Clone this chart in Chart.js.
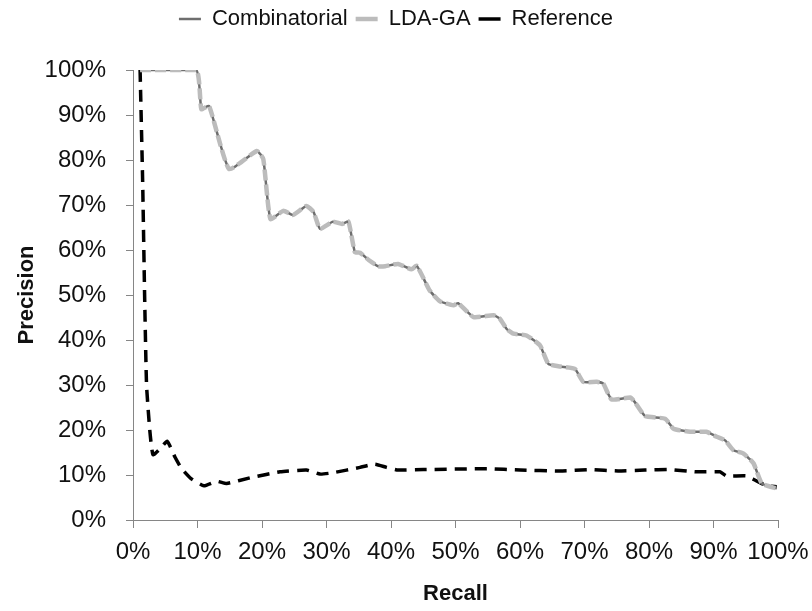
<!DOCTYPE html>
<html>
<head>
<meta charset="utf-8">
<script src="https://cdn.jsdelivr.net/npm/chart.js@4"></script>
<style>
  html, body { margin: 0; padding: 0; background: #fff; }
  #wrap { width: 812px; height: 611px; }
</style>
</head>
<body>
<div id="wrap"><canvas id="prChart" width="812" height="611"></canvas></div>
<script>
// recall (%) / precision (%)
const combRecall = [1.1, 9.8, 10.6, 11.8, 14.9, 19.2, 20.2, 21.3, 23.3, 24.8, 26.9, 28, 29, 31, 32.4, 33.4, 34.4, 35.2, 36.7, 38, 39.1, 41.1, 43.2, 44, 46, 47.6, 49.7, 50.4, 52.8, 55.9, 56.9, 57.9, 59, 61, 63.1, 64.4, 66.2, 68.5, 69.8, 71.9, 72.9, 74.2, 77.1, 77.8, 79.4, 82.5, 83.8, 86.4, 88.9, 90.5, 91.8, 93.1, 94.6, 96.2, 97.5, 99.8];
const combPrecision = [100, 100, 91.3, 92, 78, 82, 80.2, 66.9, 68.7, 67.8, 69.8, 68.4, 64.7, 66.3, 65.8, 66.3, 59.5, 59.4, 57.6, 56.4, 56.4, 56.9, 55.7, 56.5, 51, 48.6, 47.7, 48.2, 45.1, 45.5, 44.7, 42.5, 41.4, 41, 38.8, 34.7, 34.1, 33.6, 30.7, 30.7, 30.3, 26.8, 27.2, 26.2, 23.1, 22.5, 20.3, 19.6, 19.6, 18.5, 17.7, 15.5, 14.8, 12.6, 8.1, 7];

// LDA-GA sits exactly on top of Combinatorial in the picture
const ldaRecall = [1.1, 9.8, 10.6, 11.8, 14.9, 19.2, 20.2, 21.3, 23.3, 24.8, 26.9, 28, 29, 31, 32.4, 33.4, 34.4, 35.2, 36.7, 38, 39.1, 41.1, 43.2, 44, 46, 47.6, 49.7, 50.4, 52.8, 55.9, 56.9, 57.9, 59, 61, 63.1, 64.4, 66.2, 68.5, 69.8, 71.9, 72.9, 74.2, 77.1, 77.8, 79.4, 82.5, 83.8, 86.4, 88.9, 90.5, 91.8, 93.1, 94.6, 96.2, 97.5, 99.8];
const ldaPrecision = [100, 100, 91.3, 92, 78, 82, 80.2, 66.9, 68.7, 67.8, 69.8, 68.4, 64.7, 66.3, 65.8, 66.3, 59.5, 59.4, 57.6, 56.4, 56.4, 56.9, 55.7, 56.5, 51, 48.6, 47.7, 48.2, 45.1, 45.5, 44.7, 42.5, 41.4, 41, 38.8, 34.7, 34.1, 33.6, 30.7, 30.7, 30.3, 26.8, 27.2, 26.2, 23.1, 22.5, 20.3, 19.6, 19.6, 18.5, 17.7, 15.5, 14.8, 12.6, 8.1, 7];

const refRecall = [1.1, 1.5, 1.8, 2.1, 2.6, 3.1, 4.2, 5.3, 6.5, 7.5, 9, 11, 13, 14.5, 18.5, 22.8, 26.9, 29, 31, 35.2, 37.5, 39.3, 41.1, 45, 55, 60, 66.2, 70.9, 75.2, 79.4, 83.3, 87.4, 91, 92, 95.1, 96.4, 98.2, 99.8];
const refPrecision = [100, 75, 50, 30, 20, 14.5, 15.8, 17.5, 14, 11.5, 9.2, 7.6, 8.6, 8.1, 9.5, 10.7, 11.1, 10.2, 10.5, 11.7, 12.4, 11.7, 11.1, 11.2, 11.4, 11.1, 10.9, 11.2, 10.9, 11.1, 11.2, 10.7, 10.7, 9.8, 9.8, 8.9, 7.6, 7.4];

const tickLabels = ['0%', '10%', '20%', '30%', '40%', '50%', '60%', '70%', '80%', '90%', '100%'];

function toPoints(xs, ys) {
    return xs.map((x, i) => ({ x: x, y: ys[i] }));
}

const font = '"Liberation Sans", Arial, sans-serif';
const axisGray = '#868686';

// legend has no afterFit, so stretch its box to push the plot down
const legendSpace = {
    id: 'legendSpace',
    beforeInit(chart) {
        const fit = chart.legend.fit;
        chart.legend.fit = function () {
            fit.call(this);
            this.height += 30;
        };
    }
};

const ctx = document.getElementById('prChart').getContext('2d');
const prChart = new Chart(ctx, {
    type: 'line',
    data: {
        datasets: [{
            label: 'Combinatorial',
            data: toPoints(combRecall, combPrecision),
            borderColor: '#6e6e6e',
            backgroundColor: '#6e6e6e',
            borderWidth: 2.5,
            order: 1
        }, {
            label: 'LDA-GA',
            data: toPoints(ldaRecall, ldaPrecision),
            borderColor: '#bcbcbc',
            backgroundColor: '#bcbcbc',
            borderWidth: 4.5,
            borderDash: [11, 4],
            order: 0
        }, {
            label: 'Reference',
            data: toPoints(refRecall, refPrecision),
            borderColor: '#000000',
            backgroundColor: '#000000',
            borderWidth: 3.5,
            borderDash: [12, 8],
            order: 2
        }]
    },
    options: {
        responsive: false,
        animation: false,
        layout: { padding: { left: 14, right: 34, top: 0, bottom: 4 } },
        elements: {
            point: { radius: 0, pointStyle: 'line' },
            line: { tension: 0.15, fill: false }
        },
        plugins: {
            legend: {
                position: 'top',
                labels: {
                    usePointStyle: true,
                    pointStyleWidth: 22,
                    boxHeight: 8,
                    color: '#111',
                    padding: 8,
                    font: { family: font, size: 22 },
                    sort: (a, b) => a.datasetIndex - b.datasetIndex
                }
            },
            tooltip: { enabled: false }
        },
        scales: {
            x: {
                type: 'linear',
                min: 0,
                max: 100,
                afterFit: (s) => {
                    s.height = 87;
                    s.paddingLeft = 0;
                    s.paddingRight = 0;
                },
                ticks: {
                    stepSize: 10,
                    maxRotation: 0,
                    autoSkip: false,
                    color: '#111',
                    padding: 10,
                    font: { family: font, size: 24 },
                    callback: (v) => tickLabels[Math.round(v / 10)]
                },
                grid: { drawOnChartArea: false, tickLength: 8, color: axisGray },
                border: { color: axisGray },
                title: {
                    display: true,
                    text: 'Recall',
                    color: '#111',
                    padding: { top: 0, bottom: 0 },
                    font: { family: font, size: 22, weight: 'bold' }
                }
            },
            y: {
                min: 0,
                max: 100,
                afterFit: (s) => { s.width = 119; },
                ticks: {
                    stepSize: 10,
                    color: '#111',
                    padding: 20,
                    font: { family: font, size: 24 },
                    callback: (v) => tickLabels[Math.round(v / 10)]
                },
                grid: { drawOnChartArea: false, tickLength: 7, color: axisGray },
                border: { color: axisGray },
                title: {
                    display: true,
                    text: 'Precision',
                    color: '#111',
                    padding: { top: 0, bottom: 0 },
                    font: { family: font, size: 22, weight: 'bold' }
                }
            }
        }
    },
    plugins: [legendSpace]
});
</script>
</body>
</html>
